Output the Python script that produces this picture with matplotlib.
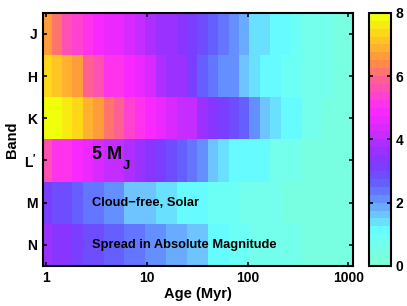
import numpy as np
import matplotlib
matplotlib.use('Agg')
from matplotlib import pyplot as plt
from matplotlib.colors import LinearSegmentedColormap, ListedColormap

plt.rcParams['font.family'] = ['Liberation Sans', 'DejaVu Sans']
plt.rcParams['mathtext.default'] = 'regular'

# log10(age/Myr) grid, 30 columns from 1 to 1000 Myr
ages = np.logspace(0, 3, 30)
bands = ['J', 'H', 'K', "L'", 'M', 'N']

# spread in absolute magnitude per band
J = [6.5, 6.1, 5.7, 5.4, 5.0, 4.9, 4.7, 4.5, 4.3, 4.0, 3.8, 3.7, 3.6, 3.4, 3.1,
     2.8, 2.5, 2.3, 2.1, 1.8, 1.4, 1.4, 1.0, 1.0, 0.95, 0.6, 0.6, 0.6, 0.35, 0.35]
H = [7.3, 7.1, 6.9, 6.5, 5.9, 5.6, 5.1, 5.0, 4.8, 4.6, 4.4, 3.8, 3.7, 3.5, 3.1,
     2.7, 2.4, 2.2, 2.0, 1.7, 1.4, 1.0, 1.0, 0.95, 0.9, 0.6, 0.6, 0.6, 0.35, 0.35]
K = [8.0, 7.9, 7.6, 7.3, 6.8, 6.6, 6.2, 5.8, 5.4, 5.0, 4.8, 4.6, 4.4, 4.2, 4.0,
     3.7, 3.4, 3.1, 2.9, 2.5, 2.2, 1.7, 1.4, 1.0, 1.0, 0.7, 0.7, 0.4, 0.35, 0.35]
Lp = [5.7, 5.1, 5.0, 4.8, 4.6, 4.4, 4.2, 4.0, 3.8, 3.6, 3.3, 3.1, 2.8, 2.5, 2.4,
      2.0, 1.7, 1.4, 1.0, 1.0, 1.0, 1.0, 0.7, 0.7, 0.7, 0.35, 0.35, 0.35, 0.35, 0.35]
M = [3.1, 2.8, 2.8, 2.6, 2.3, 2.3, 2.0, 2.0, 1.7, 1.7, 1.7, 1.4, 1.4, 1.0, 1.0,
     1.0, 0.9, 0.9, 0.9, 0.6, 0.6, 0.6, 0.6, 0.4, 0.4, 0.4, 0.4, 0.4, 0.4, 0.4]
N = [3.6, 3.3, 3.3, 3.0, 2.8, 2.8, 2.5, 2.5, 2.3, 2.3, 2.1, 2.1, 1.9, 1.9, 1.5,
     1.5, 1.0, 1.0, 0.95, 0.95, 0.6, 0.6, 0.6, 0.6, 0.6, 0.4, 0.4, 0.4, 0.4, 0.4]

spread = np.array([J, H, K, Lp, M, N])

# colormap anchors
anchors = [
    (0.0, (125, 255, 215)), (0.5, (115, 255, 235)), (1.0, (100, 255, 255)),
    (1.5, (110, 200, 255)), (2.0, (100, 150, 255)), (2.5, (100, 100, 255)),
    (3.0, (115, 65, 255)), (3.5, (145, 50, 255)), (4.0, (185, 45, 255)),
    (4.5, (225, 40, 255)), (5.0, (255, 40, 255)), (5.5, (255, 70, 200)),
    (6.0, (255, 100, 140)), (6.5, (255, 140, 70)), (7.0, (255, 180, 45)),
    (7.5, (255, 215, 25)), (8.0, (240, 255, 10)),
]
base = LinearSegmentedColormap.from_list(
    'spread', [(v / 8.0, tuple(c / 255.0 for c in col)) for v, col in anchors])
cmap = ListedColormap(base(np.linspace(0, 1, 32)))

# cell edges in log space (image-style, centres at the ages)
lg = np.log10(ages)
step = lg[1] - lg[0]
xedges = 10 ** np.concatenate([lg - step / 2, [lg[-1] + step / 2]])
yedges = np.arange(len(bands) + 1) - 0.5

fig = plt.figure(figsize=(4.07, 3.06), dpi=100)
ax = fig.add_axes([0.105, 0.131, 0.763, 0.827])
cax = fig.add_axes([0.907, 0.131, 0.054, 0.827])

mesh = ax.pcolormesh(xedges, yedges, spread, cmap=cmap, vmin=0, vmax=8)
ax.set_xscale('log')
ax.set_xlim(0.92, 1119)
ax.set_ylim(len(bands) - 0.5, -0.5)
ax.set_xticks([1, 10, 100, 1000])
ax.set_xticklabels(['1', '10', '100', '1000'])
ax.minorticks_off()
ax.set_yticks(range(len(bands)))
ax.set_yticklabels(['J', 'H', 'K', 'L$^{\\prime}$', 'M', 'N'])
ax.tick_params(direction='in', length=3, width=1.2, top=True, right=True,
               labelsize=10, pad=4)
for lab in ax.get_xticklabels() + ax.get_yticklabels():
    lab.set_fontweight('bold')
for s in ax.spines.values():
    s.set_linewidth(1.5)
ax.set_xlabel('Age (Myr)', fontsize=10.5, fontweight='bold', labelpad=1)
ax.set_ylabel('Band', fontsize=10.5, fontweight='bold', labelpad=4)

ax.text(2.84, 2.87, '5 M', fontsize=13, fontweight='bold', va='center',
        ha='left')
ax.text(5.75, 3.14, 'J', fontsize=9.5, fontweight='bold', va='center', ha='left')
ax.text(2.84, 4.0, 'Cloud\u2212free, Solar', fontsize=9.3, fontweight='bold',
        va='center', ha='left')
ax.text(2.84, 5.0, 'Spread in Absolute Magnitude', fontsize=9.3,
        fontweight='bold', va='center', ha='left')

cb = fig.colorbar(mesh, cax=cax, ticks=[0, 2, 4, 6, 8])
cb.outline.set_linewidth(1.5)
cax.tick_params(direction='in', length=3, width=1.2, left=True, right=True,
                labelsize=10, pad=3)
for lab in cax.get_yticklabels():
    lab.set_fontweight('bold')

fig.savefig('out.png', dpi=100)
